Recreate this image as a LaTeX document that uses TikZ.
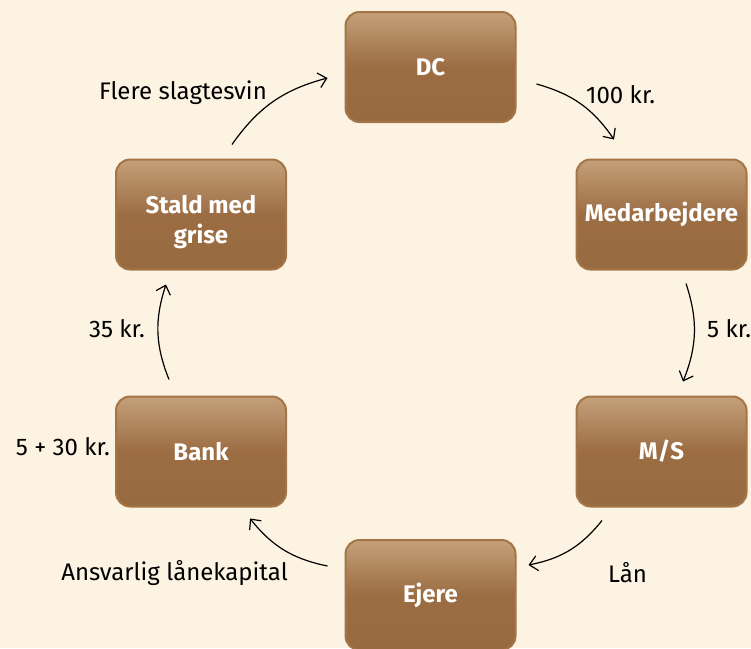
\documentclass[tikz,border=0pt]{standalone}
\usepackage{fontspec}
\setmainfont{Fira Sans}
\usetikzlibrary{arrows.meta, positioning, calc}
\definecolor{paper}{HTML}{FCF3E2}
\definecolor{boxtop}{HTML}{C4A07A}
\definecolor{boxmid}{HTML}{9C6D43}
\definecolor{boxbot}{HTML}{976A40}
\definecolor{boxrim}{HTML}{A47546}

\tikzset{
  stepbox/.style={rectangle, rounded corners=14pt, draw=boxrim, line width=2pt,
    top color=boxtop, bottom color=boxbot, middle color=boxmid,
    minimum width=170pt, minimum height=110pt, inner sep=2pt,
    align=center, text=white, font=\fontsize{24}{30}\selectfont\bfseries},
  flow/.style={-{Straight Barb[length=8pt,width=15pt]}, line width=1.2pt, bend left=20},
  amount/.style={font=\fontsize{24}{28}\selectfont, inner sep=0pt}
}

\begin{document}
\begin{tikzpicture}[x=1pt, y=-1pt]
  \fill[paper] (0,0) rectangle (751,648);
  \useasboundingbox (0,0) rectangle (751,648);
  \clip (0,0) rectangle (751,648);
  % boxes
  \node[stepbox] (dc) at (430.5,67) {DC};
  \node[stepbox] (medarb) at (661.5,214.5) {Medarbejdere};
  \node[stepbox] (ms) at (661.5,451.5) {M/S};
  \node[stepbox] (ejere) at (430.5,595) {Ejere};
  \node[stepbox] (bank) at (201,451.5) {Bank};
  \node[stepbox, text height=64pt] (stald) at (201,214.5) {Stald med\\grise};
  % arrows
  \draw[flow] ([shift={(20,17)}]dc.east) to ([shift={(-47.5,-19)}]medarb.north);
  \draw[flow] ([shift={(24.5,13)}]medarb.south) to ([shift={(21.5,-14)}]ms.north);
  \draw[flow] ([shift={(-59.5,13)}]ms.south) to ([shift={(12,-30)}]ejere.east);
  \draw[flow] ([shift={(-17,-29)}]ejere.west) to ([shift={(49,11)}]bank.south);
  \draw[flow] ([shift={(-32,-16)}]bank.north) to ([shift={(-35,14)}]stald.south);
  \draw[flow] ([shift={(31,-14)}]stald.north) to ([shift={(-17,11)}]dc.west);
  % amounts
  \node[amount, anchor=west] (l100) at (586,95) {100 kr.};
  \node[amount, anchor=west] (l5) at (707,329) {5 kr.};
  \node[amount, anchor=west] (llaan) at (608,573) {Lån};
  \node[amount, anchor=east] (lkap) at (288,573) {Ansvarlig lånekapital};
  \node[amount, anchor=east] (l35) at (145,329) {35 kr.};
  \node[amount, anchor=east] (l530) at (110,447) {5 + 30 kr.};
  \node[amount, anchor=east] (lflere) at (267,93) {Flere slagtesvin};
\end{tikzpicture}
\end{document}
